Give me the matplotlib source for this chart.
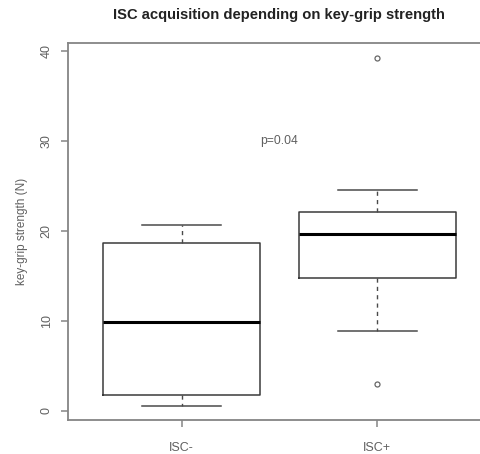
import matplotlib
matplotlib.use("Agg")
import matplotlib.pyplot as plt

# Data
groups = ["ISC-", "ISC+"]
whisker_low = [0.5, 8.8]
q1 = [1.75, 14.75]
median = [9.85, 19.65]
q3 = [18.6, 22.05]
whisker_high = [20.6, 24.5]
outliers = [[], [3.0, 39.2]]
yticks = [0, 10, 20, 30, 40]
p_text = "p=0.04"
title = "ISC acquisition depending on key-grip strength"
ylabel = "key-grip strength (N)"

plt.rcParams['font.family'] = ['Liberation Sans', 'DejaVu Sans']

fig = plt.figure(figsize=(4.81, 4.54), dpi=100)
W, H = 481, 454
ax = fig.add_axes([68 / W, 34 / H, (491 - 68) / W, (420 - 43) / H])

stats = []
for i, g in enumerate(groups):
    stats.append(dict(label=g, whislo=whisker_low[i], q1=q1[i], med=median[i],
                      q3=q3[i], whishi=whisker_high[i], fliers=outliers[i]))

ax.bxp(stats, positions=[1, 2], widths=0.8, showfliers=True,
       boxprops=dict(color='#3a3a3a', linewidth=1.1),
       medianprops=dict(color='black', linewidth=2.2, solid_capstyle='butt'),
       whiskerprops=dict(color='#4a4a4a', linewidth=1.0, linestyle=(0, (3, 3))),
       capprops=dict(color='#4a4a4a', linewidth=1.1),
       capwidths=0.4,
       flierprops=dict(marker='o', markersize=3.6, markerfacecolor='none',
                       markeredgecolor='#666666', markeredgewidth=0.9))

ax.set_xlim(0.42, 2.58)
ax.set_ylim(-1.05, 40.85)
ax.set_yticks(yticks)
ax.set_yticklabels([str(t) for t in yticks], rotation=90, va='center')
ax.set_xticks([1, 2])
ax.set_xticklabels(groups)

for s in ax.spines.values():
    s.set_color('#858585')
    s.set_linewidth(1.3)
ax.tick_params(axis='both', colors='#858585', labelcolor='#606060',
               labelsize=9, length=5, width=1.1)
ax.tick_params(axis='y', pad=6)
ax.tick_params(axis='x', pad=11)

ax.text(1.5, 30, p_text, ha='center', va='center', fontsize=8.7, color='#606060')
ax.set_ylabel(ylabel, fontsize=8.5, color='#606060', labelpad=9)

fig.text(279 / W, 1 - 15 / H, title, ha='center', va='center',
         fontsize=10.6, fontweight='bold', color='#222222')

fig.savefig("out.png", dpi=100)
